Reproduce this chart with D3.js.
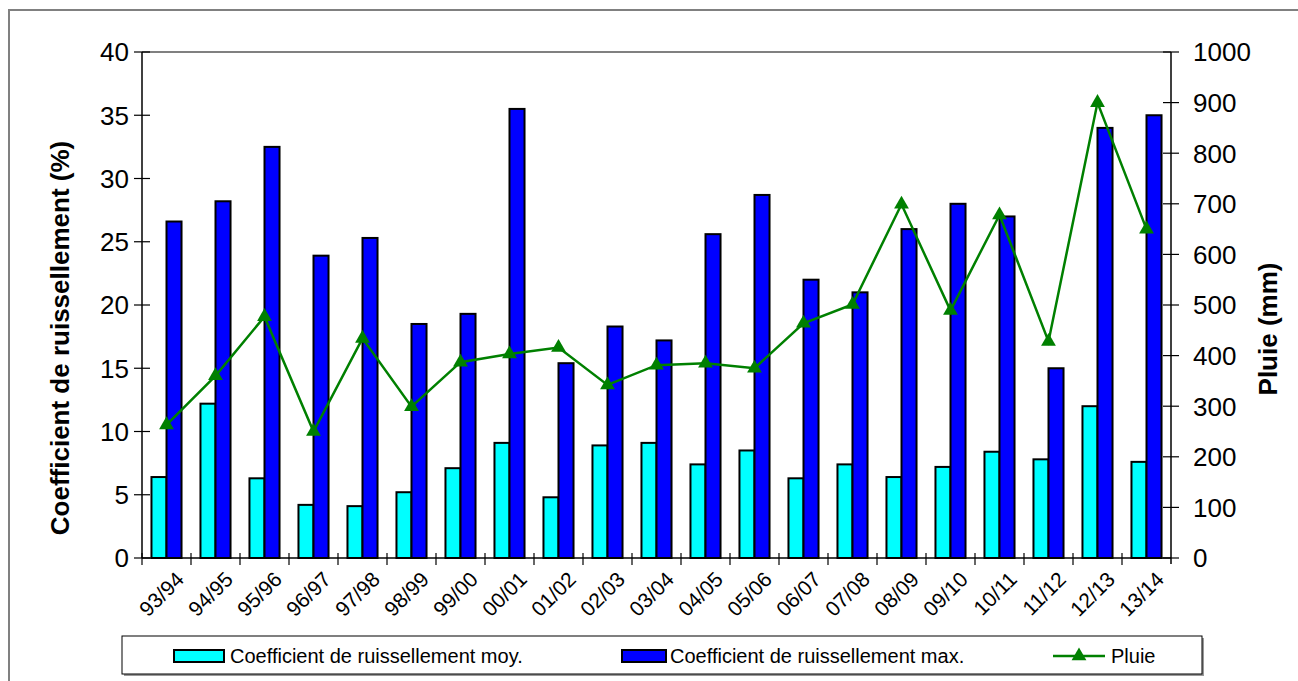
<!DOCTYPE html>
<html><head><meta charset="utf-8">
<script src="https://cdn.jsdelivr.net/npm/d3@7"></script>
<style>body{margin:0;background:#fff}svg{display:block}text{font-family:"Liberation Sans",Arial,sans-serif}</style>
</head><body><svg id="c" width="1298" height="681"></svg>
<script>
const categories = ["93/94","94/95","95/96","96/97","97/98","98/99","99/00","00/01","01/02","02/03","03/04","04/05","05/06","06/07","07/08","08/09","09/10","10/11","11/12","12/13","13/14"];
const coefMoy = [6.4,12.2,6.3,4.2,4.1,5.2,7.1,9.1,4.8,8.9,9.1,7.4,8.5,6.3,7.4,6.4,7.2,8.4,7.8,12.0,7.6];
const coefMax = [26.6,28.2,32.5,23.9,25.3,18.5,19.3,35.5,15.4,18.3,17.2,25.6,28.7,22.0,21.0,26.0,28.0,27.0,15.0,34.0,35.0];
const pluie = [263,360,477,250,434,299,387,403,416,342,381,385,375,464,501,699,489,678,428,900,650];
const leftTicks = [0,5,10,15,20,25,30,35,40];
const rightTicks = [0,100,200,300,400,500,600,700,800,900,1000];
const seriesNames = ["Coefficient de ruissellement moy.","Coefficient de ruissellement max.","Pluie"];

const svg = d3.select("#c");
const L = 142, R = 1171, T = 52, B = 558;
const x = d3.scaleBand().domain(categories).range([L, R]).padding(0);
const xs = d3.scaleBand().domain(["moy","max"]).range([0, x.bandwidth()]).paddingInner(0).paddingOuter(0.63);
const yL = d3.scaleLinear().domain([0,40]).range([B, T]);
const yR = d3.scaleLinear().domain([0,1000]).range([B, T]);

// outer border
svg.append("path").attr("d", `M9,690 L9,10 L1310,10`).attr("fill","none").attr("stroke","#808080").attr("stroke-width",2);
// plot top border
svg.append("line").attr("x1",L).attr("x2",R).attr("y1",T).attr("y2",T).attr("stroke","#808080").attr("stroke-width",2);

// bars
const g = svg.append("g");
categories.forEach((c,i)=>{
  [["moy",coefMoy[i],"#00FFFF"],["max",coefMax[i],"#0000FF"]].forEach(([k,v,col])=>{
    g.append("rect").attr("x", x(c)+xs(k)).attr("y", yL(v)).attr("width", xs.bandwidth()).attr("height", B - yL(v))
     .attr("fill", col).attr("stroke","#000").attr("stroke-width",2);
  });
});

// axes lines
svg.append("line").attr("x1",L).attr("x2",L).attr("y1",T).attr("y2",B).attr("stroke","#000").attr("stroke-width",1.5);
svg.append("line").attr("x1",R).attr("x2",R).attr("y1",T).attr("y2",B+6).attr("stroke","#000").attr("stroke-width",1.5);
svg.append("line").attr("x1",L).attr("x2",R).attr("y1",B).attr("y2",B).attr("stroke","#000").attr("stroke-width",1.5);

// left ticks
leftTicks.forEach(t=>{
  svg.append("line").attr("x1",L-8).attr("x2",L+8).attr("y1",yL(t)).attr("y2",yL(t)).attr("stroke","#000").attr("stroke-width",1.2);
  svg.append("text").attr("x",L-13).attr("y",yL(t)).attr("dy","0.36em").attr("text-anchor","end").attr("font-size",26).text(t);
});
rightTicks.forEach(t=>{
  svg.append("line").attr("x1",R-8).attr("x2",R+8).attr("y1",yR(t)).attr("y2",yR(t)).attr("stroke","#000").attr("stroke-width",1.2);
  svg.append("text").attr("x",R+22).attr("y",yR(t)).attr("dy","0.36em").attr("text-anchor","start").attr("font-size",26).text(t);
});
// x ticks at boundaries
categories.forEach((c,i)=>{
  svg.append("line").attr("x1",x(c)).attr("x2",x(c)).attr("y1",B-5).attr("y2",B+7).attr("stroke","#000").attr("stroke-width",1.2);
  const cx = x(c)+x.bandwidth()/2;
  svg.append("text").attr("transform",`translate(${cx+8},${B+12}) rotate(-45)`).attr("text-anchor","end").attr("dy","0.72em").attr("font-size",21).text(c);
});

// line
const line = d3.line().x((d,i)=>x(categories[i])+x.bandwidth()/2).y(d=>yR(d));
svg.append("path").datum(pluie).attr("d",line).attr("fill","none").attr("stroke","#008000").attr("stroke-width",2.5);
const tri = d3.symbol().type(d3.symbolTriangle).size(95);
pluie.forEach((v,i)=>{
  svg.append("path").attr("d",tri()).attr("transform",`translate(${x(categories[i])+x.bandwidth()/2},${yR(v)})`).attr("fill","#008000");
});

// axis titles
svg.append("text").attr("transform",`translate(60,338) rotate(-90)`).attr("text-anchor","middle").attr("dy","0.35em").attr("font-size",26).attr("font-weight","bold").text("Coefficient de ruissellement (%)");
svg.append("text").attr("transform",`translate(1268,329) rotate(-90)`).attr("text-anchor","middle").attr("dy","0.35em").attr("font-size",26).attr("font-weight","bold").text("Pluie (mm)");

// legend
const lg = svg.append("g");
lg.append("rect").attr("x",124).attr("y",638).attr("width",1080).attr("height",38).attr("fill","#999");
lg.append("rect").attr("x",122).attr("y",636).attr("width",1080).attr("height",38).attr("fill","#fff").attr("stroke","#000").attr("stroke-width",1);
lg.append("rect").attr("x",174).attr("y",650).attr("width",50).attr("height",12).attr("fill","#00FFFF").attr("stroke","#000").attr("stroke-width",2);
lg.append("text").attr("x",230).attr("y",656).attr("dy","0.36em").attr("font-size",20).text(seriesNames[0]);
lg.append("rect").attr("x",622).attr("y",650).attr("width",44).attr("height",12).attr("fill","#0000FF").attr("stroke","#000").attr("stroke-width",2);
lg.append("text").attr("x",670).attr("y",656).attr("dy","0.36em").attr("font-size",20).text(seriesNames[1]);
lg.append("line").attr("x1",1053).attr("x2",1105).attr("y1",656).attr("y2",656).attr("stroke","#008000").attr("stroke-width",2.5);
lg.append("path").attr("d",tri()).attr("transform","translate(1079,656)").attr("fill","#008000");
lg.append("text").attr("x",1111).attr("y",656).attr("dy","0.36em").attr("font-size",20).text(seriesNames[2]);
</script></body></html>
